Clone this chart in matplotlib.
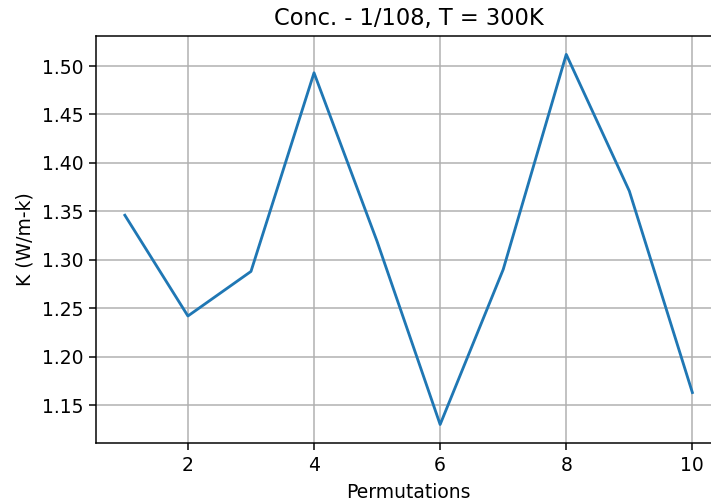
import matplotlib
matplotlib.use("Agg")
import matplotlib.pyplot as plt

permutations = [1, 2, 3, 4, 5, 6, 7, 8, 9, 10]
k_values = [1.346, 1.242, 1.288, 1.493, 1.319, 1.130, 1.290, 1.512, 1.371, 1.163]

DPI = 135
fig = plt.figure(figsize=(711 / DPI, 502 / DPI), dpi=DPI)
ax = fig.add_axes([0.1357, 0.1175, 0.878, 0.811])
ax.plot(permutations, k_values, color="#1f77b4", linewidth=1.5)
ax.set_title("Conc. - 1/108, T = 300K", fontsize=12)
ax.set_xlabel("Permutations", fontsize=10)
ax.set_ylabel("K (W/m-k)", fontsize=10)
ax.tick_params(labelsize=10)
ax.grid(True)
fig.savefig("out.png", dpi=DPI)
